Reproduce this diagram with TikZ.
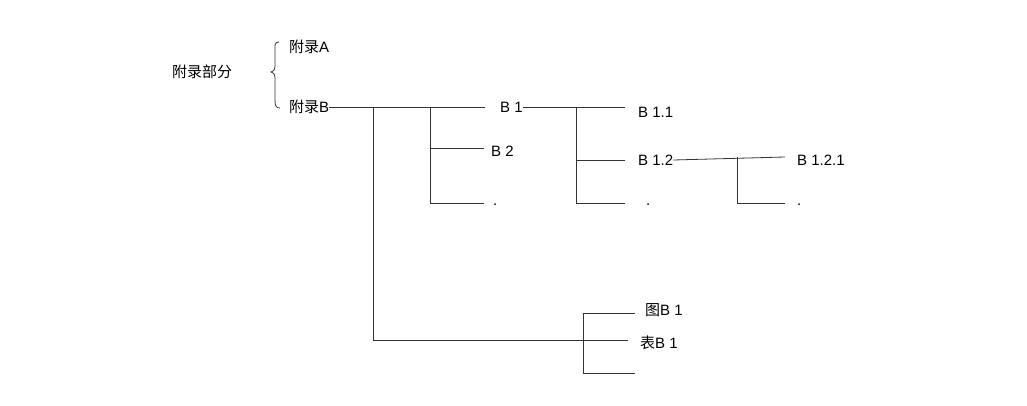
\documentclass[tikz,border=0pt]{standalone}
\usepackage{fontspec}
\setmainfont{Liberation Sans}
\newfontfamily\cjk{Noto Sans CJK SC}
\begin{document}
\begin{tikzpicture}[x=1pt,y=-1pt,
  lbl/.style={anchor=west,inner sep=0pt,font=\fontsize{15}{17}\selectfont},
  ln/.style={draw=black!80,line width=0.8pt}]
\useasboundingbox (0,0) rectangle (1027,406);
\node[lbl] (root) at (172,72) {\cjk 附录部分};
\draw[ln] (279,42) .. controls (274,42) and (275,46) .. (275,52) -- (275,66) .. controls (275,70) and (273,72) .. (271,72) .. controls (273,72) and (275,74) .. (275,78) -- (275,100) .. controls (275,106) and (276,108) .. (280,108);
\node[lbl] (A) at (289,47) {{\cjk 附录}A};
\node[lbl] (B) at (289,107) {{\cjk 附录}B};
\node[lbl] (b1) at (500,107) {B 1};
\node[lbl] (b2) at (491,151) {B 2};
\node[lbl] (bd) at (493,205) {.};
\node[lbl] (b11) at (638,112) {B 1.1};
\node[lbl] (b12) at (638,160) {B 1.2};
\node[lbl] (b1d) at (646,205) {.};
\node[lbl] (b121) at (797,160) {B 1.2.1};
\node[lbl] (b12d) at (797,205) {.};
\node[lbl] (tu) at (645,310) {{\cjk 图}B 1};
\node[lbl] (biao) at (640,343) {{\cjk 表}B 1};
\coordinate (e3) at (635,373);
% level 1
\coordinate (j1) at (373,107);
\coordinate (j2) at (430,107);
\draw[ln] (B.east) -- (485,107);
\draw[ln] (j1) -- (373,340) -- (628,340);
\draw[ln] (j2) |- (484,148);
\draw[ln] (j2) |- (484,203);
% level 2
\coordinate (k1) at (576,107);
\draw[ln] (b1.east) -- (625,107);
\draw[ln] (k1) |- (625,160);
\draw[ln] (k1) |- (625,203);
% level 3
\coordinate (m1) at (737,157);
\draw[ln] (b12.east) -- (785,157);
\draw[ln] (m1) |- (785,203);
% figures/tables
\draw[ln] (635,313) -| (583,373) -- (e3);
\end{tikzpicture}
\end{document}
